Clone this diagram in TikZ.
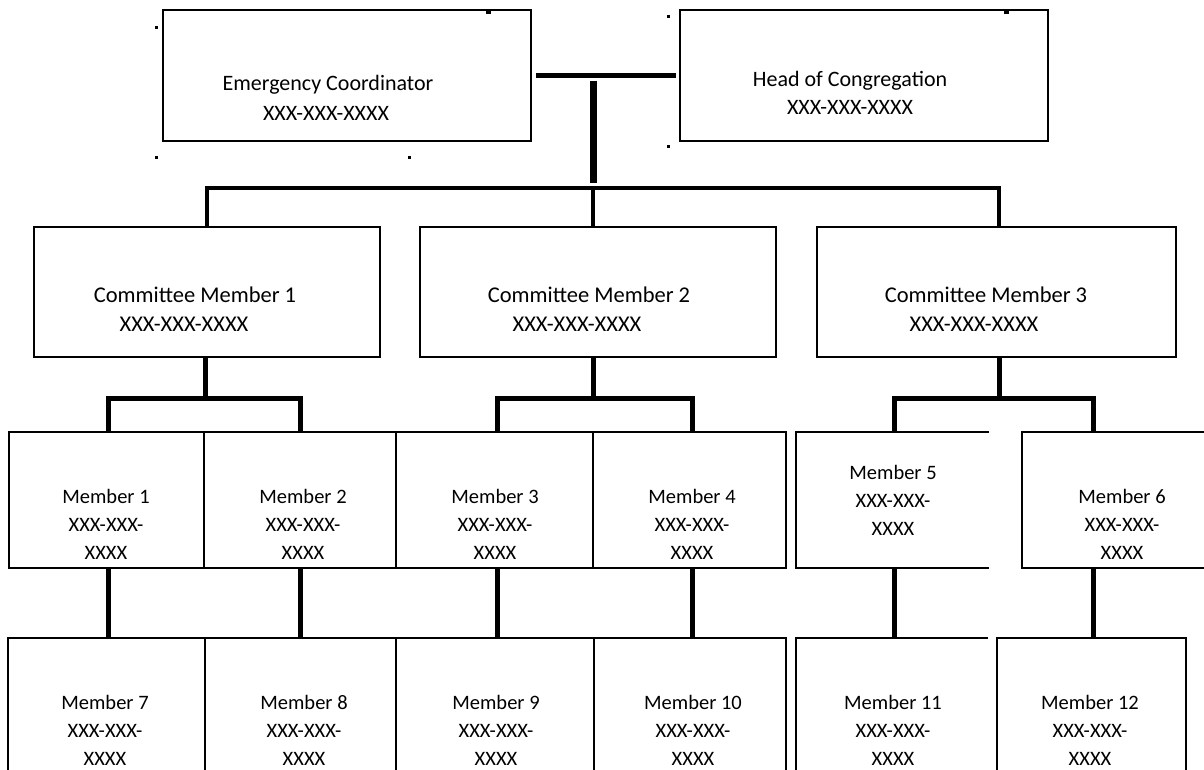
\documentclass[tikz,border=0pt]{standalone}
\usepackage{fontspec}
\setmainfont{Carlito}
\usetikzlibrary{fit}
\newcommand\mkbox[6]{%
  \path (#3,#4) coordinate (#2-a) (#5,#6) coordinate (#2-b);
  \node[#1, fit=(#2-a)(#2-b)] (#2) {};}
\newcommand\openright[1]{%
  \draw[boxline] (#1.north east) -- (#1.north west) -- (#1.south west) -- (#1.south east);}
\begin{document}
\begin{tikzpicture}[x=1pt,y=-1pt,
  boxline/.style={draw=black, line width=1.8pt, line join=miter},
  box/.style={boxline, inner sep=0pt, outer sep=0pt},
  openbox/.style={inner sep=0pt, outer sep=0pt},
  conn/.style={draw=black, line width=5pt, line cap=butt, line join=miter},
  toptxt/.style={inner sep=0pt, font=\fontsize{22}{26}\selectfont, text height=14pt, text depth=0pt},
  cmtxt/.style={inner sep=0pt, font=\fontsize{22.5}{27}\selectfont, text height=14.4pt, text depth=0pt},
  mtxt/.style={inner sep=0pt, align=center, font=\fontsize{20.5}{28}\selectfont},
  dot/.style={fill=black}
]
\useasboundingbox (0,0) rectangle (1204,769);
\clip (0,0) rectangle (1204,769);

% ---- boxes
\mkbox{box}{EC}{163}{10}{531}{141}
\mkbox{box}{HC}{680}{10}{1048}{141}
\mkbox{box}{CM1}{34}{227}{380}{357}
\mkbox{box}{CM2}{420}{227}{776}{357}
\mkbox{box}{CM3}{817}{227}{1176}{357}
\mkbox{box}{M1}{9}{432}{204}{568}
\mkbox{box}{M2}{204}{432}{396}{568}
\mkbox{box}{M3}{396}{432}{593}{568}
\mkbox{box}{M4}{593}{432}{786}{568}
\mkbox{openbox}{M5}{796}{432}{989}{568}
\mkbox{openbox}{M6}{1022}{432}{1215}{568}
\mkbox{box}{M7}{8}{638}{205}{800}
\mkbox{box}{M8}{205}{638}{396}{800}
\mkbox{box}{M9}{396}{638}{594}{800}
\mkbox{box}{M10}{594}{638}{786}{800}
\mkbox{openbox}{M11}{796}{638}{988}{800}
\mkbox{box}{M12}{997}{638}{1186}{800}
\openright{M5}
\openright{M6}
\openright{M11}

% ---- texts
\node[toptxt] (ECa) at (328,83) {Emergency Coordinator};
\node[toptxt] (ECb) at (326,113) {XXX-XXX-XXXX};
\node[toptxt] (HCa) at (850,79) {Head of Congregation};
\node[toptxt] (HCb) at (850,107) {XXX-XXX-XXXX};
\node[cmtxt] (C1a) at (195,295) {Committee Member 1};
\node[cmtxt] (C1b) at (184,324) {XXX-XXX-XXXX};
\node[cmtxt] (C2a) at (589,295) {Committee Member 2};
\node[cmtxt] (C2b) at (577,324) {XXX-XXX-XXXX};
\node[cmtxt] (C3a) at (986,295) {Committee Member 3};
\node[cmtxt] (C3b) at (974,324) {XXX-XXX-XXXX};
\node[mtxt] (M1t) at (106,524) {Member 1\\XXX-XXX-\\XXXX};
\node[mtxt] (M2t) at (303,524) {Member 2\\XXX-XXX-\\XXXX};
\node[mtxt] (M3t) at (495,524) {Member 3\\XXX-XXX-\\XXXX};
\node[mtxt] (M4t) at (692,524) {Member 4\\XXX-XXX-\\XXXX};
\node[mtxt] (M5t) at (893,500) {Member 5\\XXX-XXX-\\XXXX};
\node[mtxt] (M6t) at (1122,524) {Member 6\\XXX-XXX-\\XXXX};
\node[mtxt] (M7t) at (105,730) {Member 7\\XXX-XXX-\\XXXX};
\node[mtxt] (M8t) at (304,730) {Member 8\\XXX-XXX-\\XXXX};
\node[mtxt] (M9t) at (496,730) {Member 9\\XXX-XXX-\\XXXX};
\node[mtxt] (M10t) at (693,730) {Member 10\\XXX-XXX-\\XXXX};
\node[mtxt] (M11t) at (893,730) {Member 11\\XXX-XXX-\\XXXX};
\node[mtxt] (M12t) at (1090,730) {Member 12\\XXX-XXX-\\XXXX};

% ---- connector coordinates
\coordinate (tj) at (593,75.5);
\coordinate (bj) at (593,188);
\coordinate (d1) at (207,188);
\coordinate (d3) at (999,188);
\coordinate (c1) at (205,398);
\coordinate (c2) at (593,398);
\coordinate (c3) at (999,398);
\coordinate (x1) at (108,0);
\coordinate (x2) at (300,0);
\coordinate (x3) at (497,0);
\coordinate (x4) at (692,0);
\coordinate (x5) at (894,0);
\coordinate (x6) at (1093,0);

% ---- connectors
\draw[conn, shorten <=5pt, shorten >=4pt] (EC.east) -- (HC.west);
\draw[conn, line width=7pt, shorten <=5pt, shorten >=5pt] (tj) -- (bj);
\draw[conn, line width=4.5pt] (d1 |- CM1.north) -- (d1) -- (d3) -- (d3 |- CM3.north);
\draw[conn, line width=4.5pt] (bj) -- (bj |- CM2.north);

\draw[conn] (c1 |- CM1.south) -- (c1);
\draw[conn] (x1 |- M1.north) -- (x1 |- c1) -- (x2 |- c1) -- (x2 |- M2.north);
\draw[conn] (c2 |- CM2.south) -- (c2);
\draw[conn] (x3 |- M3.north) -- (x3 |- c2) -- (x4 |- c2) -- (x4 |- M4.north);
\draw[conn] (c3 |- CM3.south) -- (c3);
\draw[conn] (x5 |- M5.north) -- (x5 |- c3) -- (x6 |- c3) -- (x6 |- M6.north);

\draw[conn] (x1 |- M1.south) -- (x1 |- M7.north);
\draw[conn] (x2 |- M2.south) -- (x2 |- M8.north);
\draw[conn] (x3 |- M3.south) -- (x3 |- M9.north);
\draw[conn] (x4 |- M4.south) -- (x4 |- M10.north);
\draw[conn] (x5 |- M5.south) -- (x5 |- M11.north);
\draw[conn] (x6 |- M6.south) -- (x6 |- M12.north);

% ---- small marks
\fill[dot] (155,26) rectangle (157.5,28.5);
\fill[dot] (155,156) rectangle (157.5,158.5);
\fill[dot] (408,156) rectangle (410.5,158.5);
\fill[dot] (667,15) rectangle (669.5,17.5);
\fill[dot] (667,145) rectangle (669.5,147.5);
\fill[dot] (486,10) rectangle (491,14);
\fill[dot] (1004,10) rectangle (1008.5,14);
\end{tikzpicture}
\end{document}
